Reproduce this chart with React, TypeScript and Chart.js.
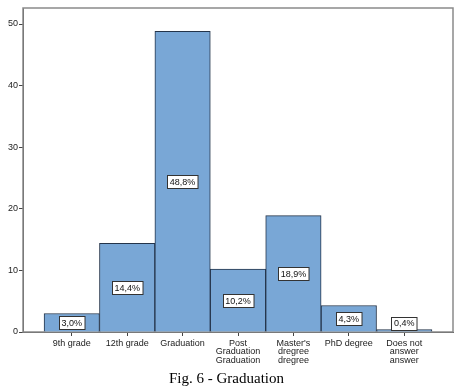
import React, { useEffect, useRef } from "react";
import { Chart, registerables } from "chart.js";

Chart.register(...registerables);

const categories: string[][] = [
  ["9th grade"],
  ["12th grade"],
  ["Graduation"],
  ["Post", "Graduation", "Graduation"],
  ["Master's", "dregree", "dregree"],
  ["PhD degree"],
  ["Does not", "answer", "answer"],
];
const percentValues: number[] = [3.0, 14.4, 48.8, 10.2, 18.9, 4.3, 0.4];
const yTicks: number[] = [0, 10, 20, 30, 40, 50];
const caption = "Fig. 6 - Graduation";

const labelBoxPlugin = {
  id: "labelBoxes",
  afterDatasetsDraw(chart: any) {
    const meta = chart.getDatasetMeta(0);
    const ctx = chart.ctx;
    const yScale = chart.scales.y;
    const base = yScale.getPixelForValue(0);
    ctx.save();
    ctx.font = "9px 'Liberation Sans', Arial, sans-serif";
    ctx.textAlign = "center";
    ctx.textBaseline = "middle";
    meta.data.forEach((bar: any, i: number) => {
      const text = percentValues[i].toFixed(1).replace(".", ",") + "%";
      const w = ctx.measureText(text).width + 5;
      const h = 13;
      let cy = (bar.y + base) / 2;
      cy = Math.min(cy, base - 8.5);
      const x0 = Math.round(bar.x - w / 2) + 0.5;
      const y0 = Math.round(cy - h / 2) + 0.5;
      ctx.fillStyle = "#ffffff";
      ctx.fillRect(x0, y0, w, h);
      ctx.strokeStyle = "#333";
      ctx.lineWidth = 1;
      ctx.strokeRect(x0, y0, w, h);
      ctx.fillStyle = "#111";
      ctx.fillText(text, bar.x, cy + 0.5);
    });
    ctx.restore();
  },
};

const framePlugin = {
  id: "frame",
  beforeDatasetsDraw(chart: any) {
    const { ctx, chartArea } = chart;
    ctx.save();
    ctx.strokeStyle = "#8a8a8a";
    ctx.lineWidth = 1.5;
    ctx.strokeRect(chartArea.left, chartArea.top, chartArea.right - chartArea.left, chartArea.bottom - chartArea.top);
    ctx.restore();
  },
};

export default function App() {
  const ref = useRef<HTMLCanvasElement>(null);
  useEffect(() => {
    if (!ref.current) return;
    const chart = new Chart(ref.current, {
      type: "bar",
      data: {
        datasets: [
          {
            data: percentValues.map((v, i) => ({ x: i, y: v })),
            backgroundColor: "#79a7d6",
            borderColor: "#24344a",
            borderWidth: 1,
            barPercentage: 1,
            categoryPercentage: 1,
          },
        ],
      },
      options: {
        responsive: false,
        animation: false,
        layout: { padding: { top: 8, right: 6, left: 0, bottom: 0 } },
        plugins: {
          legend: { display: false },
          tooltip: { enabled: false },
          title: {
            display: true,
            position: "bottom",
            text: caption,
            color: "#000",
            font: { family: "'Liberation Serif', 'Times New Roman', serif", size: 15, weight: "normal" },
            padding: { top: 0, bottom: 3 },
          },
        },
        scales: {
          x: {
            type: "linear",
            offset: false,
            min: -0.88,
            max: 6.88,
            afterBuildTicks: (s: any) => {
              s.ticks = categories.map((_, i) => ({ value: i }));
            },
            afterFit: (s: any) => {
              s.height = 38;
            },
            ticks: {
              autoSkip: false,
              maxRotation: 0,
              padding: 3,
              color: "#222",
              font: { family: "'Liberation Sans', Arial, sans-serif", size: 9, lineHeight: 0.95 },
              callback: (v: any) => categories[v] ?? "",
            },
            grid: { offset: false, drawOnChartArea: false, drawTicks: true, tickLength: 4, color: "#444" },
            border: { display: true, color: "#444", width: 1 },
          },
          y: {
            min: 0,
            max: 52.6,
            afterBuildTicks: (s: any) => {
              s.ticks = yTicks.map((v) => ({ value: v }));
            },
            afterFit: (s: any) => {
              s.width = 23;
            },
            ticks: {
              padding: 1,
              color: "#222",
              font: { family: "'Liberation Sans', Arial, sans-serif", size: 9 },
            },
            grid: { drawOnChartArea: false, drawTicks: true, tickLength: 4, color: "#444" },
            border: { display: true, color: "#444", width: 1 },
          },
        },
      },
      plugins: [framePlugin, labelBoxPlugin],
    } as any);
    return () => chart.destroy();
  }, []);
  return (
    <div style={{ position: "absolute", left: 0, top: 0, width: 459, height: 391, background: "#fff" }}>
      <canvas ref={ref} width={459} height={391} style={{ display: "block" }} />
    </div>
  );
}
